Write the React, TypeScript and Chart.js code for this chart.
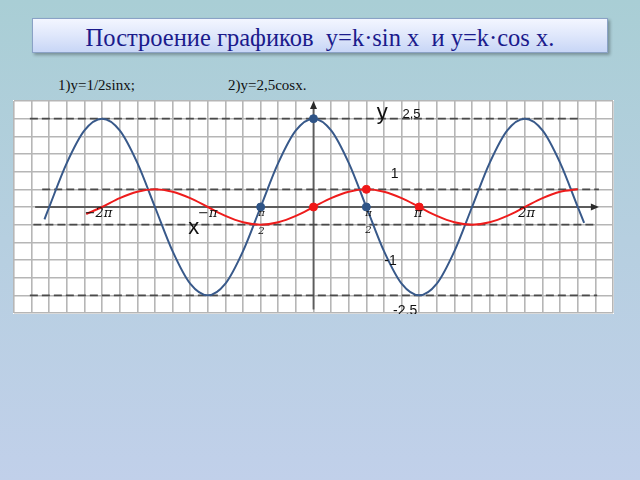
import React, { useEffect, useRef } from "react";
import { Chart, registerables } from "chart.js";

Chart.register(...registerables);

// x values are measured in sixths of π (one grid cell = π/6)
const cosX = [-15.27, -15, -14, -13, -12, -11, -10, -9, -8, -7, -6, -5, -4, -3, -2, -1, 0, 1, 2, 3, 4, 5, 6, 7, 8, 9, 10, 11, 12, 13, 14, 15, 15.36];
const cosY = [-0.35, 0, 1.25, 2.17, 2.5, 2.17, 1.25, 0, -1.25, -2.17, -2.5, -2.17, -1.25, 0, 1.25, 2.17, 2.5, 2.17, 1.25, 0, -1.25, -2.17, -2.5, -2.17, -1.25, 0, 1.25, 2.17, 2.5, 2.17, 1.25, 0, -0.45];

const sinX = [-12.9, -12, -11, -10, -9, -8, -7, -6, -5, -4, -3, -2, -1, 0, 1, 2, 3, 4, 5, 6, 7, 8, 9, 10, 11, 12, 13, 14, 15];
const sinY = [-0.2, 0, 0.25, 0.43, 0.5, 0.43, 0.25, 0, -0.25, -0.43, -0.5, -0.43, -0.25, 0, 0.25, 0.43, 0.5, 0.43, 0.25, 0, -0.25, -0.43, -0.5, -0.43, -0.25, 0, 0.25, 0.43, 0.5];

const cosMarkX = [-3, 0, 3];
const cosMarkY = [0, 2.5, 0];
const sinMarkX = [0, 3, 6];
const sinMarkY = [0, 0.5, 0];

const guideY = [2.5, 0.5, -0.5, -2.5];
const guideFrom = [-16.1, -15.4, -15.9, -16.1];
const guideTo = [15.2, 16.2, 16.1, 16.1];

const xAxisRange = [-15.8, 16.2];
const yAxisRange = [-2.9, 3];

const xMin = -17;
const xMax = 17;
const yMin = -3;
const yMax = 3;

const piLabels = ["−2π", "−π", "π", "2", "π", "2", "π", "2π"];
const piLabelX = [-12.2, -6.0, -2.95, -2.95, 3.12, 3.12, 5.95, 12.1];
const piLabelY = [-0.2, -0.2, -0.17, -0.68, -0.17, -0.65, -0.2, -0.2];
const piLabelSize = [13, 13, 10, 10, 10, 10, 13, 13];

const valLabels = ["y", "2,5", "1", "-1", "-2,5", "x"];
const valLabelX = [3.9, 5.56, 4.6, 4.37, 5.2, -6.8];
const valLabelY = [2.66, 2.63, 0.93, -1.53, -2.95, -0.6];
const valLabelSize = [22, 13, 14, 14, 14, 22];

const pts = (xs: number[], ys: number[]) => xs.map((x, i) => ({ x, y: ys[i] }));

const decor = {
  id: "decor",
  beforeDatasetsDraw(chart: any) {
    const { ctx, scales } = chart;
    const sx = scales.x;
    const sy = scales.y;
    ctx.save();
    ctx.strokeStyle = "#5c5c5c";
    ctx.fillStyle = "#2a2a2a";
    ctx.lineWidth = 1.8;
    const y0 = sy.getPixelForValue(0);
    const xa = sx.getPixelForValue(xAxisRange[0]);
    const xb = sx.getPixelForValue(xAxisRange[1]);
    ctx.beginPath();
    ctx.moveTo(xa, y0);
    ctx.lineTo(xb - 5, y0);
    ctx.stroke();
    ctx.beginPath();
    ctx.moveTo(xb, y0);
    ctx.lineTo(xb - 8, y0 - 3.5);
    ctx.lineTo(xb - 8, y0 + 3.5);
    ctx.closePath();
    ctx.fill();
    const x0 = sx.getPixelForValue(0);
    const ya = sy.getPixelForValue(yAxisRange[0]);
    const yb = sy.getPixelForValue(yAxisRange[1]);
    ctx.beginPath();
    ctx.moveTo(x0, ya);
    ctx.lineTo(x0, yb + 5);
    ctx.stroke();
    ctx.beginPath();
    ctx.moveTo(x0, yb);
    ctx.lineTo(x0 - 3.5, yb + 8);
    ctx.lineTo(x0 + 3.5, yb + 8);
    ctx.closePath();
    ctx.fill();
    ctx.restore();
  },
  afterDatasetsDraw(chart: any) {
    const { ctx, scales } = chart;
    const sx = scales.x;
    const sy = scales.y;
    ctx.save();
    ctx.textAlign = "center";
    ctx.textBaseline = "middle";
    ctx.fillStyle = "#111111";
    piLabels.forEach((t, i) => {
      ctx.font = `italic ${piLabelSize[i]}px "DejaVu Serif", serif`;
      ctx.fillText(t, sx.getPixelForValue(piLabelX[i]), sy.getPixelForValue(piLabelY[i]));
    });
    valLabels.forEach((t, i) => {
      ctx.font = `${valLabelSize[i]}px "Liberation Sans", sans-serif`;
      ctx.fillText(t, sx.getPixelForValue(valLabelX[i]), sy.getPixelForValue(valLabelY[i]));
    });
    ctx.restore();
  },
};

function GraphCanvas() {
  const ref = useRef<HTMLCanvasElement | null>(null);
  useEffect(() => {
    if (!ref.current) return;
    const guideSets = guideY.map((gy, i) => ({
      data: [
        { x: guideFrom[i], y: gy },
        { x: guideTo[i], y: gy },
      ],
      borderColor: "#4a4a4a",
      borderWidth: 1.6,
      borderDash: [8, 4],
      pointRadius: 0,
      tension: 0,
      order: 5,
    }));
    const chart = new Chart(ref.current, {
      type: "line",
      data: {
        datasets: [
          {
            data: pts(sinMarkX, sinMarkY),
            showLine: false,
            pointRadius: 4,
            pointBackgroundColor: "#f01818",
            pointBorderColor: "#f01818",
            order: 0,
          },
          {
            data: pts(cosMarkX, cosMarkY),
            showLine: false,
            pointRadius: 4,
            pointBackgroundColor: "#2f5486",
            pointBorderColor: "#2f5486",
            order: 1,
          },
          {
            data: pts(sinX, sinY),
            borderColor: "#ee1c1c",
            borderWidth: 2,
            pointRadius: 0,
            cubicInterpolationMode: "monotone",
            order: 2,
          },
          {
            data: pts(cosX, cosY),
            borderColor: "#38598a",
            borderWidth: 2,
            pointRadius: 0,
            cubicInterpolationMode: "monotone",
            order: 3,
          },
          ...guideSets,
        ],
      } as any,
      options: {
        animation: false,
        responsive: true,
        maintainAspectRatio: false,
        layout: { padding: 1, autoPadding: false },
        plugins: { legend: { display: false }, tooltip: { enabled: false } },
        events: [],
        scales: {
          x: {
            type: "linear",
            min: xMin,
            max: xMax,
            afterBuildTicks: (s: any) => {
              const t = [];
              for (let v = xMin; v <= xMax; v++) t.push({ value: v });
              s.ticks = t;
            },
            ticks: { display: false },
            grid: { color: "#b6b6b6", lineWidth: 1.6, drawTicks: false },
            border: { display: false },
          },
          y: {
            type: "linear",
            min: yMin,
            max: yMax,
            afterBuildTicks: (s: any) => {
              const t = [];
              for (let v = yMin * 2; v <= yMax * 2; v++) t.push({ value: v / 2 });
              s.ticks = t;
            },
            ticks: { display: false },
            grid: { color: "#b6b6b6", lineWidth: 1.6, drawTicks: false },
            border: { display: false },
          },
        },
      } as any,
      plugins: [decor],
    });
    return () => chart.destroy();
  }, []);
  return <canvas ref={ref} />;
}

export default function App() {
  return (
    <div
      style={{
        position: "absolute",
        left: 0,
        top: 0,
        width: 640,
        height: 480,
        overflow: "hidden",
        background: "linear-gradient(to bottom, #a9ced5 0%, #b6cfe0 50%, #c1d0ea 100%)",
      }}
    >
      <div
        style={{
          position: "absolute",
          left: 32,
          top: 18,
          width: 574,
          height: 30,
          border: "1px solid #8aa2c6",
          background: "linear-gradient(to bottom, #f3f6ff 0%, #dfe7fb 50%, #c8d6f6 100%)",
          boxShadow: "2px 2px 3px rgba(0,0,0,0.3)",
          display: "flex",
          alignItems: "center",
          justifyContent: "center",
          paddingTop: 3,
          boxSizing: "content-box",
          lineHeight: "27px",
          fontFamily: '"Liberation Serif", serif',
          fontSize: 24.5,
          color: "#1b1b8c",
          whiteSpace: "pre",
        }}
      >
        {"Построение графиков  y=k·sin x  и y=k·cos x."}
      </div>
      <div
        style={{
          position: "absolute",
          left: 58,
          top: 77,
          fontFamily: '"Liberation Serif", serif',
          fontSize: 15,
          color: "#111",
          whiteSpace: "pre",
        }}
      >
        1)y=1/2sinx;
      </div>
      <div
        style={{
          position: "absolute",
          left: 228,
          top: 77,
          fontFamily: '"Liberation Serif", serif',
          fontSize: 15,
          color: "#111",
          whiteSpace: "pre",
        }}
      >
        2)y=2,5cosx.
      </div>
      <div
        style={{
          position: "absolute",
          left: 13,
          top: 100,
          width: 601,
          height: 214,
          background: "#ffffff",
        }}
      >
        <GraphCanvas />
      </div>
    </div>
  );
}
